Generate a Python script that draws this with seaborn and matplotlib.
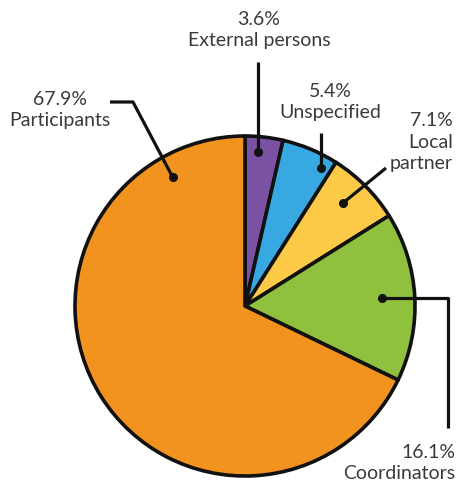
import numpy as np
import matplotlib
matplotlib.use("Agg")
import matplotlib.pyplot as plt
import seaborn as sns

sns.set_style("white")
plt.rcParams['font.family'] = ['Lato', 'DejaVu Sans']

# data, clockwise from the top
groups = ['External persons', 'Unspecified', 'Local\npartner', 'Coordinators', 'Participants']
shares = [3.6, 5.4, 7.1, 16.1, 67.9]
colors = ['#7b52a3', '#38a8e2', '#fdca48', '#8fc13f', '#f2921f']

W, H = 467, 488
cx, cy, R = 245, 306, 170

fig = plt.figure(figsize=(W / 100, H / 100), dpi=100)
ax = fig.add_axes([0, 0, 1, 1])

# y axis runs downwards (pixel style), so start at -90 and go "counterclock" = clockwise on screen
wedges, _ = ax.pie(shares, colors=colors, startangle=-90, counterclock=True,
                   center=(cx, cy), radius=R,
                   wedgeprops=dict(edgecolor='#111111', linewidth=2.6, joinstyle='round'))
ax.set_xlim(0, W)
ax.set_ylim(H, 0)
ax.set_aspect('equal')
ax.axis('off')

# where the dot sits inside each wedge (fraction of angle, fraction of radius)
dot_pos = [(0.38, 0.91), (0.82, 0.93), (0.44, 0.84), (0.5, 0.81), (0.88, 0.87)]

# label anchors: (x, y, ha)
label_pos = [(259, 30, 'center'), (330, 102, 'center'), (453, 142, 'right'),
             (455, 463, 'right'), (60, 110, 'center')]

for w, (f, rf), g, s, (lx, ly, ha) in zip(wedges, dot_pos, groups, shares, label_pos):
    th = np.deg2rad(w.theta1 + f * (w.theta2 - w.theta1))
    dx = cx + rf * R * np.cos(th)
    dy = cy + rf * R * np.sin(th)
    ax.plot(dx, dy, 'o', color='#111111', ms=5.5, zorder=5)

    if g == 'External persons':
        pts = [(dx, dy), (dx, 62)]
    elif g == 'Unspecified':
        pts = [(dx, dy), (dx, 133)]
    elif g.startswith('Local'):
        pts = [(dx, dy), (386, 168)]
    elif g == 'Participants':
        pts = [(dx, dy), (133, 102), (110, 102)]
    else:
        pts = [(dx, dy), (448, dy), (448, 428)]
    xs, ys = zip(*pts)
    ax.plot(xs, ys, color='#111111', lw=2.3, solid_capstyle='butt', zorder=4)

    ax.text(lx, ly, f"{s}%\n{g}", ha=ha, va='center', multialignment=ha,
            fontsize=14, color='#3a3a3a', fontweight='normal', linespacing=1.3)

fig.savefig("out.png", dpi=100)
